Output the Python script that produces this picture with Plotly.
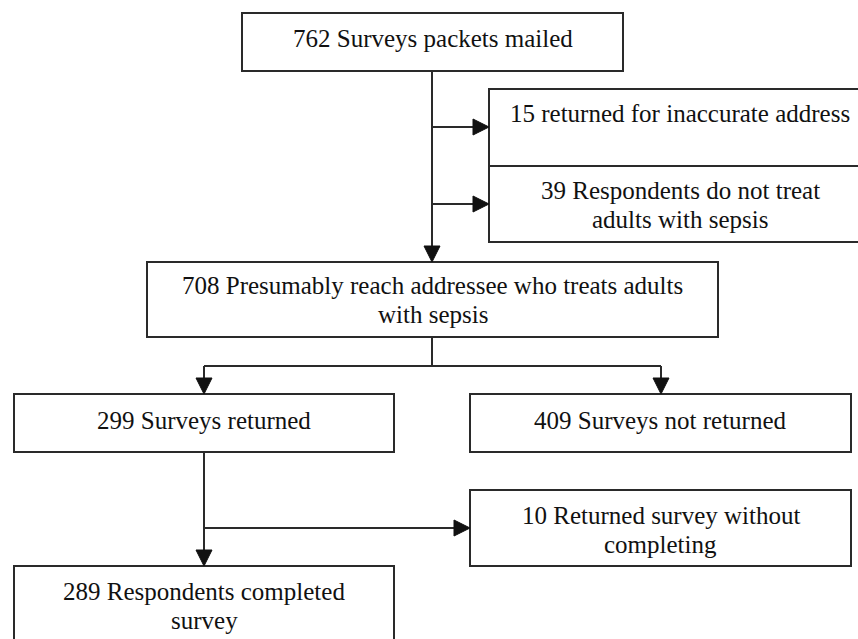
import plotly.graph_objects as go

# ---- data (node contents) ----
counts = [762, 15, 39, 708, 299, 409, 10, 289]
descriptions = [
    "Surveys packets mailed",
    "returned for inaccurate address",
    "Respondents do not treat|adults with sepsis",
    "Presumably reach addressee who treats adults|with sepsis",
    "Surveys returned",
    "Surveys not returned",
    "Returned survey without|completing",
    "Respondents completed|survey",
]

# ---- layout (pixel geometry of the flow chart) ----
W, H = 858, 639
boxes = [  # x0, y0, x1, y1
    (242, 13, 623, 71),
    (489, 89, 871, 166),
    (489, 166, 871, 242),
    (147, 262, 718, 337),
    (14, 394, 394, 452),
    (470, 394, 851, 452),
    (470, 490, 851, 566),
    (14, 566, 394, 660),
]
text_centers_y = [38, 113, 205, 300, 420, 420, 530, 606]
LINE_GAP = 29.5
FONT = dict(family="Liberation Serif, Times New Roman, serif", size=25, color="#111111")
LC = "#2a2a2a"
LW = 2

# connectors: (x0,y0,x1,y1, arrow at end?)
segments = [
    (432, 71, 432, 262, True),
    (432, 127, 489, 127, True),
    (432, 204, 489, 204, True),
    (432, 337, 432, 366, False),
    (204, 366, 661, 366, False),
    (204, 366, 204, 394, True),
    (661, 366, 661, 394, True),
    (204, 452, 204, 566, True),
    (204, 528, 470, 528, True),
]
HEAD_L, HEAD_W = 16, 8

fig = go.Figure()
shapes = []
for (x0, y0, x1, y1) in boxes:
    shapes.append(dict(type="rect", x0=x0, y0=y0, x1=x1, y1=y1, xref="x", yref="y",
                       line=dict(color=LC, width=LW), fillcolor="rgba(0,0,0,0)"))

for (x0, y0, x1, y1, arrow) in segments:
    if arrow:
        if x0 == x1:  # vertical, pointing down
            ye = y1 - HEAD_L
            shapes.append(dict(type="line", x0=x0, y0=y0, x1=x1, y1=ye, line=dict(color=LC, width=LW)))
            path = f"M {x1-HEAD_W},{ye} L {x1+HEAD_W},{ye} L {x1},{y1} Z"
        else:  # horizontal, pointing right
            xe = x1 - HEAD_L
            shapes.append(dict(type="line", x0=x0, y0=y0, x1=xe, y1=y1, line=dict(color=LC, width=LW)))
            path = f"M {xe},{y1-HEAD_W} L {xe},{y1+HEAD_W} L {x1},{y1} Z"
        shapes.append(dict(type="path", path=path, fillcolor="#111111", line=dict(color="#111111", width=1)))
    else:
        shapes.append(dict(type="line", x0=x0, y0=y0, x1=x1, y1=y1, line=dict(color=LC, width=LW)))

annotations = []
for i, (c, d) in enumerate(zip(counts, descriptions)):
    lines = f"{c} {d}".split("|")
    x0, y0, x1, y1 = boxes[i]
    cx = (x0 + min(x1, 871)) / 2
    n = len(lines)
    for k, ln in enumerate(lines):
        yy = text_centers_y[i] + (k - (n - 1) / 2) * LINE_GAP
        annotations.append(dict(x=cx, y=yy, text=ln, showarrow=False, xref="x", yref="y",
                                xanchor="center", yanchor="middle", font=FONT))

fig.add_trace(go.Scatter(x=[0], y=[0], mode="markers", marker=dict(opacity=0), hoverinfo="skip", showlegend=False))
fig.update_layout(
    width=W, height=H, margin=dict(l=0, r=0, t=0, b=0),
    paper_bgcolor="white", plot_bgcolor="white",
    xaxis=dict(range=[0, W], visible=False, fixedrange=True),
    yaxis=dict(range=[H, 0], visible=False, fixedrange=True),
    shapes=shapes, annotations=annotations, showlegend=False,
)
fig.write_html("out.html", config={"displayModeBar": False},
               post_script="document.body.style.margin='0';document.body.style.overflow='hidden';")
